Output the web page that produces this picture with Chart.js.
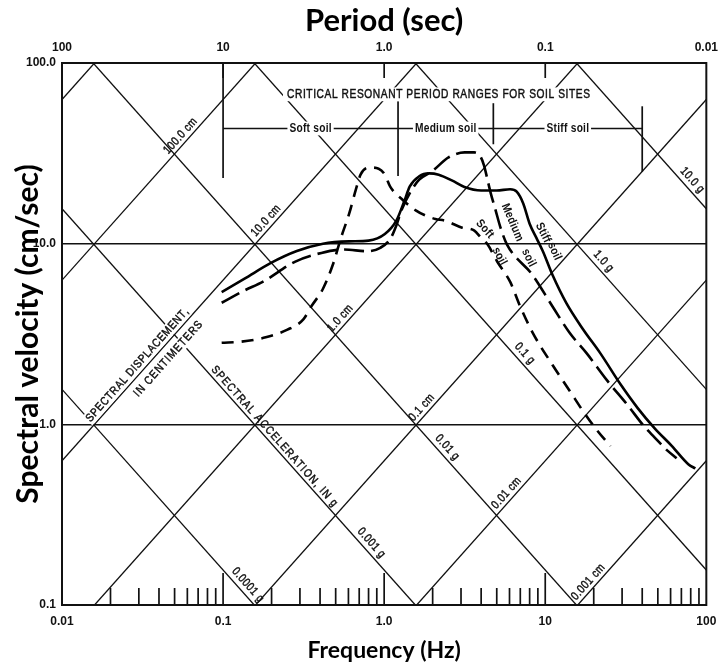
<!DOCTYPE html>
<html>
<head>
<meta charset="utf-8">
<title>Response spectra on tripartite paper</title>
<script src="https://cdn.jsdelivr.net/npm/chart.js@4/dist/chart.umd.min.js"></script>
<style>
  html, body { margin: 0; padding: 0; background: #fff; }
  #wrap { width: 726px; height: 669px; }
</style>
</head>
<body>
<div id="wrap"><canvas id="spectra" width="726" height="669"></canvas></div>
<script>
// Tripartite response-spectrum chart: frequency (bottom) / period (top) vs.
// spectral velocity, with constant-displacement and constant-acceleration
// diagonals, and the spectra for soft, medium and stiff soil sites.

// ---- axes -----------------------------------------------------------------
const FREQ_TICKS   = [0.01, 0.1, 1, 10, 100];
const FREQ_LABELS  = ['0.01', '0.1', '1.0', '10', '100'];
const PERIOD_TICKS = [100, 10, 1, 0.1, 0.01];
const PERIOD_LABELS = ['100', '10', '1.0', '0.1', '0.01'];
const VEL_TICKS    = [0.1, 1, 10, 100];
const VEL_LABELS   = ['0.1', '1.0', '10.0', '100.0'];

// ---- diagonal grids -------------------------------------------------------
const DISP_CM     = [0.001, 0.01, 0.1, 1, 10, 100, 1000];
const DISP_LABELS = ['0.001 cm', '0.01 cm', '0.1 cm', '1.0 cm', '10.0 cm', '100.0 cm', ''];
const ACC_G       = [0.0001, 0.001, 0.01, 0.1, 1, 10];
const ACC_LABELS  = ['0.0001 g', '0.001 g', '0.01 g', '0.1 g', '1.0 g', '10.0 g'];

// ---- spectra (frequency in Hz, velocity in cm/sec) -------------------------
const STIFF_FREQ = [0.098, 0.136, 0.197, 0.287, 0.417, 0.607, 0.80, 1.01, 1.19, 1.34, 1.44, 1.65, 1.90, 2.18, 2.63, 3.15, 4.0, 5.0, 6.05, 6.65, 7.3, 8.0, 8.8, 9.65, 11.1, 13.5, 17.2, 22.0, 29.4, 37.5, 47.8, 61.0, 77.6, 85.5];
const STIFF_VEL  = [5.4, 6.4, 7.8, 9.1, 10.0, 10.3, 10.4, 11.3, 13.4, 17.4, 20.7, 23.6, 24.5, 24.1, 22.4, 20.6, 19.7, 19.7, 20.0, 19.4, 16.7, 12.9, 10.8, 9.1, 6.7, 4.7, 3.35, 2.47, 1.66, 1.23, 0.95, 0.76, 0.60, 0.57];

const MEDIUM_FREQ = [0.098, 0.136, 0.176, 0.281, 0.408, 0.566, 0.783, 0.946, 1.09, 1.19, 1.28, 1.44, 1.65, 1.99, 2.51, 3.16, 3.63, 3.99, 4.18, 4.38, 4.59, 4.92, 5.27, 5.78, 8.35, 11.1, 14.2, 18.1, 24.2, 32.4, 41.1, 47.5, 57.4, 65.4];
const MEDIUM_VEL  = [4.71, 5.51, 6.14, 7.96, 8.89, 9.29, 9.08, 9.49, 10.6, 12.6, 15.3, 19.0, 22.6, 25.2, 30.0, 32.0, 32.0, 30.0, 26.9, 22.6, 19.0, 15.3, 12.3, 9.92, 6.70, 4.49, 3.20, 2.47, 1.75, 1.28, 0.975, 0.85, 0.715, 0.65];

const SOFT_FREQ = [0.098, 0.130, 0.184, 0.251, 0.315, 0.355, 0.417, 0.480, 0.540, 0.607, 0.667, 0.715, 0.815, 0.924, 1.01, 1.09, 1.31, 1.57, 1.81, 2.08, 2.39, 3.02, 3.63, 3.99, 4.38, 5.03, 6.06, 6.96, 8.38, 11.1, 14.2, 17.2, 20.9, 25.4];
const SOFT_VEL  = [2.83, 2.87, 3.03, 3.34, 3.81, 4.53, 5.63, 7.64, 10.8, 14.7, 19.9, 24.2, 26.4, 26.0, 24.1, 20.7, 17.4, 15.3, 14.3, 13.7, 13.4, 12.3, 11.8, 10.8, 9.92, 7.97, 6.14, 4.53, 3.20, 2.13, 1.53, 1.18, 0.93, 0.757];

// ---- critical resonant period ranges (sec) ---------------------------------
const SOIL_RANGE_PERIODS = [10, 0.82, 0.21, 0.025];
const SOIL_RANGE_NAMES   = ['Soft soil', 'Medium soil', 'Stiff soil'];

// ---- constants and layout ---------------------------------------------------
const F_MIN = 0.01, F_MAX = 100, V_MIN = 0.1, V_MAX = 100;
const G_CM = 981;
const TWO_PI = 2 * Math.PI;
const INK = '#111';
const SANS = '"Liberation Sans", Arial, sans-serif';
const TICK_FONT = '"Liberation Sans Narrow", "Arial Narrow", "Liberation Sans", sans-serif';
const TITLE_FONT = 'Lato, "Open Sans", sans-serif';

const LAYOUT = {
  dispLabelAt: [20, 6.22, 1.85, 0.577, 0.200, 0.0589, null],   // Hz along each line
  accLabelAt:  [0.13, 0.76, 2.25, 6.8, 21, 74.6],
  dispLabelOffset: 7.5,
  accLabelOffset: 8.5,
  // vertical extent (cm/sec) of the range markers, one per boundary period
  rangeBars: [[100, 23.1], [61.5, 23.7], [59.9, 35.5], [57.6, 25.0]],
  rangeLineV: 43.4,
  rangeHeadV: 67.1,
  rangeHeadT: 0.46,
  curveLabels: [
    { text: 'Soft',   f: 4.22, v: 12.05, rot: 48 },
    { text: 'soil',   f: 5.2,  v: 8.51,  rot: 62 },
    { text: 'Medium', f: 6.25, v: 13.1,  rot: 67 },
    { text: 'soil',   f: 7.9,  v: 8.34,  rot: 64 },
    { text: 'Stiff',  f: 9.7,  v: 11.5,  rot: 63 },
    { text: 'soil',   f: 11.4, v: 9.08,  rot: 66 }
  ]
};

const pts = (fs, vs) => fs.map((f, i) => ({ x: f, y: vs[i] }));

// Constant-displacement line V = 2*pi*f*D, trimmed to the plotting window.
function dispLine(D) {
  const f0 = Math.max(F_MIN, V_MIN / (TWO_PI * D));
  const f1 = Math.min(F_MAX, V_MAX / (TWO_PI * D));
  return [{ x: f0, y: TWO_PI * f0 * D }, { x: f1, y: TWO_PI * f1 * D }];
}
// Constant-acceleration line V = A/(2*pi*f), trimmed to the plotting window.
function accLine(Ag) {
  const a = Ag * G_CM;
  const f0 = Math.max(F_MIN, a / (TWO_PI * V_MAX));
  const f1 = Math.min(F_MAX, a / (TWO_PI * V_MIN));
  return [{ x: f0, y: a / (TWO_PI * f0) }, { x: f1, y: a / (TWO_PI * f1) }];
}

const gridSet = (data) => ({
  data, borderColor: INK, borderWidth: 1.3, pointRadius: 0, tension: 0, clip: 0
});
const curveSet = (label, data, dash) => ({
  label, data, borderColor: '#000', borderWidth: 2.6, borderDash: dash,
  pointRadius: 0, cubicInterpolationMode: 'monotone', clip: 0
});

const datasets = [
  curveSet('Stiff soil', pts(STIFF_FREQ, STIFF_VEL), []),
  curveSet('Medium soil', pts(MEDIUM_FREQ, MEDIUM_VEL), [20, 7]),
  curveSet('Soft soil', pts(SOFT_FREQ, SOFT_VEL), [12, 8]),
  ...DISP_CM.map(D => gridSet(dispLine(D))),
  ...ACC_G.map(A => gridSet(accLine(A)))
];

// Text drawn letter by letter with optional tracking, squeeze, extra weight
// and a white knockout behind it.
function spacedText(ctx, text, cx, cy, angle, o) {
  ctx.save();
  ctx.translate(cx, cy);
  ctx.rotate(angle);
  ctx.font = o.font;
  const sq = o.squeeze ?? 0.85;
  ctx.scale(sq, 1);
  const chars = [...text];
  const adv = chars.map(ch => ctx.measureText(ch).width);
  const sum = adv.reduce((s, w) => s + w, 0);
  let ls = o.spacing ?? 0;
  if (o.width) ls = (o.width / sq - sum) / Math.max(1, chars.length - 1);
  const total = sum + ls * (chars.length - 1);
  if (o.knockout) {
    const h = o.size * 1.15;
    ctx.fillStyle = '#fff';
    ctx.fillRect(-total / 2 - o.knockout / sq, -h / 2, total + 2 * o.knockout / sq, h);
  }
  ctx.fillStyle = INK;
  ctx.strokeStyle = INK;
  ctx.lineWidth = o.weight || 0;
  ctx.textBaseline = 'middle';
  ctx.textAlign = 'left';
  let x = -total / 2;
  chars.forEach((ch, i) => {
    ctx.fillText(ch, x, 0);
    if (o.weight) ctx.strokeText(ch, x, 0);
    x += adv[i] + ls;
  });
  ctx.restore();
}

const overlay = {
  id: 'tripartiteOverlay',
  afterDraw(chart) {
    const { ctx, chartArea: a, scales } = chart;
    const xs = scales.x, ys = scales.y, xt = scales.xTop;
    const px = f => xs.getPixelForValue(f);
    const py = v => ys.getPixelForValue(v);
    const pt = T => xt.getPixelForValue(T);
    const seg = (x0, y0, x1, y1) => { ctx.beginPath(); ctx.moveTo(x0, y0); ctx.lineTo(x1, y1); ctx.stroke(); };

    ctx.save();
    ctx.strokeStyle = INK;

    // frequency ticks rising from the bottom edge
    ctx.lineWidth = 1.7;
    for (let e = -2; e < 2; e++) {
      for (let k = 1; k < 10; k++) {
        const f = k * Math.pow(10, e);
        if (f <= F_MIN * 1.0001) continue;
        const x = px(f);
        seg(x, a.bottom, x, a.bottom - (k === 1 ? 32 : 17));
      }
    }
    // period ticks hanging from the top edge
    PERIOD_TICKS.slice(1, -1).forEach(T => { const x = pt(T); seg(x, a.top, x, a.top + 15); });

    // labels along the diagonals
    const along = (f, vOf, off) => {
      const x0 = px(f), y0 = py(vOf(f));
      const x1 = px(f * 1.5), y1 = py(vOf(f * 1.5));
      const th = Math.atan2(y1 - y0, x1 - x0);
      return { x: x0 + Math.sin(th) * off, y: y0 - Math.cos(th) * off, th };
    };
    const diagFont = { font: '12px ' + SANS, size: 12, spacing: 0.6, squeeze: 0.82, weight: 0.45 };
    DISP_CM.forEach((D, i) => {
      if (!DISP_LABELS[i]) return;
      const p = along(LAYOUT.dispLabelAt[i], f => TWO_PI * f * D, LAYOUT.dispLabelOffset);
      spacedText(ctx, DISP_LABELS[i], p.x, p.y, p.th, diagFont);
    });
    ACC_G.forEach((A, i) => {
      const p = along(LAYOUT.accLabelAt[i], f => A * G_CM / (TWO_PI * f), LAYOUT.accLabelOffset);
      spacedText(ctx, ACC_LABELS[i], p.x, p.y, p.th, diagFont);
    });

    // captions for the diagonal families
    const capFont = '11.5px ' + SANS;
    const d10 = f => TWO_PI * f * 10;
    let p = along(0.0318, d10, 7.5);
    spacedText(ctx, 'SPECTRAL DISPLACEMENT,', p.x, p.y, p.th, { font: capFont, size: 11.5, width: 148, knockout: 1, weight: 0.45 });
    p = along(0.0404, d10, -11.5);
    spacedText(ctx, 'IN CENTIMETERS', p.x, p.y, p.th, { font: capFont, size: 11.5, width: 97, knockout: 1, weight: 0.45 });
    p = along(0.193, f => 0.001 * G_CM / (TWO_PI * f), 7);
    spacedText(ctx, 'SPECTRAL ACCELERATION, IN g', p.x, p.y, p.th, { font: capFont, size: 11.5, width: 184, weight: 0.45 });

    // critical resonant period ranges
    ctx.lineWidth = 1.7;
    const yLine = py(LAYOUT.rangeLineV);
    seg(pt(SOIL_RANGE_PERIODS[0]), yLine, pt(SOIL_RANGE_PERIODS[SOIL_RANGE_PERIODS.length - 1]), yLine);
    SOIL_RANGE_PERIODS.forEach((T, i) => {
      const [vTop, vBot] = LAYOUT.rangeBars[i];
      seg(pt(T), py(vTop), pt(T), py(vBot));
    });
    SOIL_RANGE_NAMES.forEach((name, i) => {
      const Tm = Math.sqrt(SOIL_RANGE_PERIODS[i] * SOIL_RANGE_PERIODS[i + 1]);
      spacedText(ctx, name, pt(Tm), yLine, 0, { font: 'bold 12px ' + SANS, size: 12, spacing: 0.3, knockout: 2 });
    });
    spacedText(ctx, 'CRITICAL RESONANT PERIOD RANGES FOR SOIL SITES', pt(LAYOUT.rangeHeadT), py(LAYOUT.rangeHeadV), 0,
      { font: '12px ' + SANS, size: 12, width: 303, knockout: 4, weight: 0.45 });

    // names written beside the spectra
    LAYOUT.curveLabels.forEach(l => {
      spacedText(ctx, l.text, px(l.f), py(l.v), l.rot * Math.PI / 180,
        { font: 'bold 12px ' + SANS, size: 12, spacing: 0.3 });
    });

    // plotting frame
    ctx.lineWidth = 2;
    ctx.strokeRect(a.left, a.top, a.right - a.left, a.bottom - a.top);
    ctx.restore();
  }
};

const tickFont = { family: TICK_FONT, size: 12, weight: 'bold' };

new Chart(document.getElementById('spectra'), {
  type: 'line',
  data: { datasets },
  plugins: [overlay],
  options: {
    responsive: false,
    animation: false,
    devicePixelRatio: 1,
    layout: { padding: { left: 0, right: 12, top: 0, bottom: 0 } },
    plugins: { legend: { display: false }, tooltip: { enabled: false } },
    scales: {
      x: {
        type: 'logarithmic', position: 'bottom', min: F_MIN, max: F_MAX,
        afterBuildTicks: s => { s.ticks = FREQ_TICKS.map(v => ({ value: v })); },
        afterFit: s => { s.height = 64; },
        grid: { display: false, drawTicks: false },
        border: { display: false },
        ticks: { autoSkip: false, maxRotation: 0, padding: 9, font: tickFont, color: INK,
                 callback: (v, i) => FREQ_LABELS[i] },
        title: { display: true, text: 'Frequency (Hz)', color: '#000',
                 font: { family: TITLE_FONT, size: 23, weight: 'bold' }, padding: { top: 0, bottom: 5 } }
      },
      xTop: {
        type: 'logarithmic', position: 'top', min: 1 / F_MAX, max: 1 / F_MIN, reverse: true,
        afterBuildTicks: s => { s.ticks = PERIOD_TICKS.map(v => ({ value: v })); },
        afterFit: s => { s.height = 63; },
        grid: { display: false, drawTicks: false },
        border: { display: false },
        ticks: { autoSkip: false, maxRotation: 0, padding: 8, font: tickFont, color: INK,
                 callback: (v, i) => PERIOD_LABELS[i] },
        title: { display: true, text: 'Period (sec)', color: '#000',
                 font: { family: TITLE_FONT, size: 31, weight: 'bold' }, padding: { top: 2, bottom: 0 } }
      },
      y: {
        type: 'logarithmic', position: 'left', min: V_MIN, max: V_MAX,
        afterBuildTicks: s => { s.ticks = VEL_TICKS.map(v => ({ value: v })); },
        afterFit: s => { s.width = 62; },
        grid: { drawTicks: false, lineWidth: 1.5,
                color: c => (c.tick && (c.tick.value === 1 || c.tick.value === 10)) ? INK : 'rgba(0,0,0,0)' },
        border: { display: false },
        ticks: { autoSkip: false, padding: 6, font: tickFont, color: INK,
                 callback: (v, i) => VEL_LABELS[i] },
        title: { display: true, text: 'Spectral velocity (cm/sec)', color: '#000',
                 font: { family: TITLE_FONT, size: 30, weight: 'bold' }, padding: { top: 10, bottom: 0 } }
      }
    }
  }
});
</script>
</body>
</html>
